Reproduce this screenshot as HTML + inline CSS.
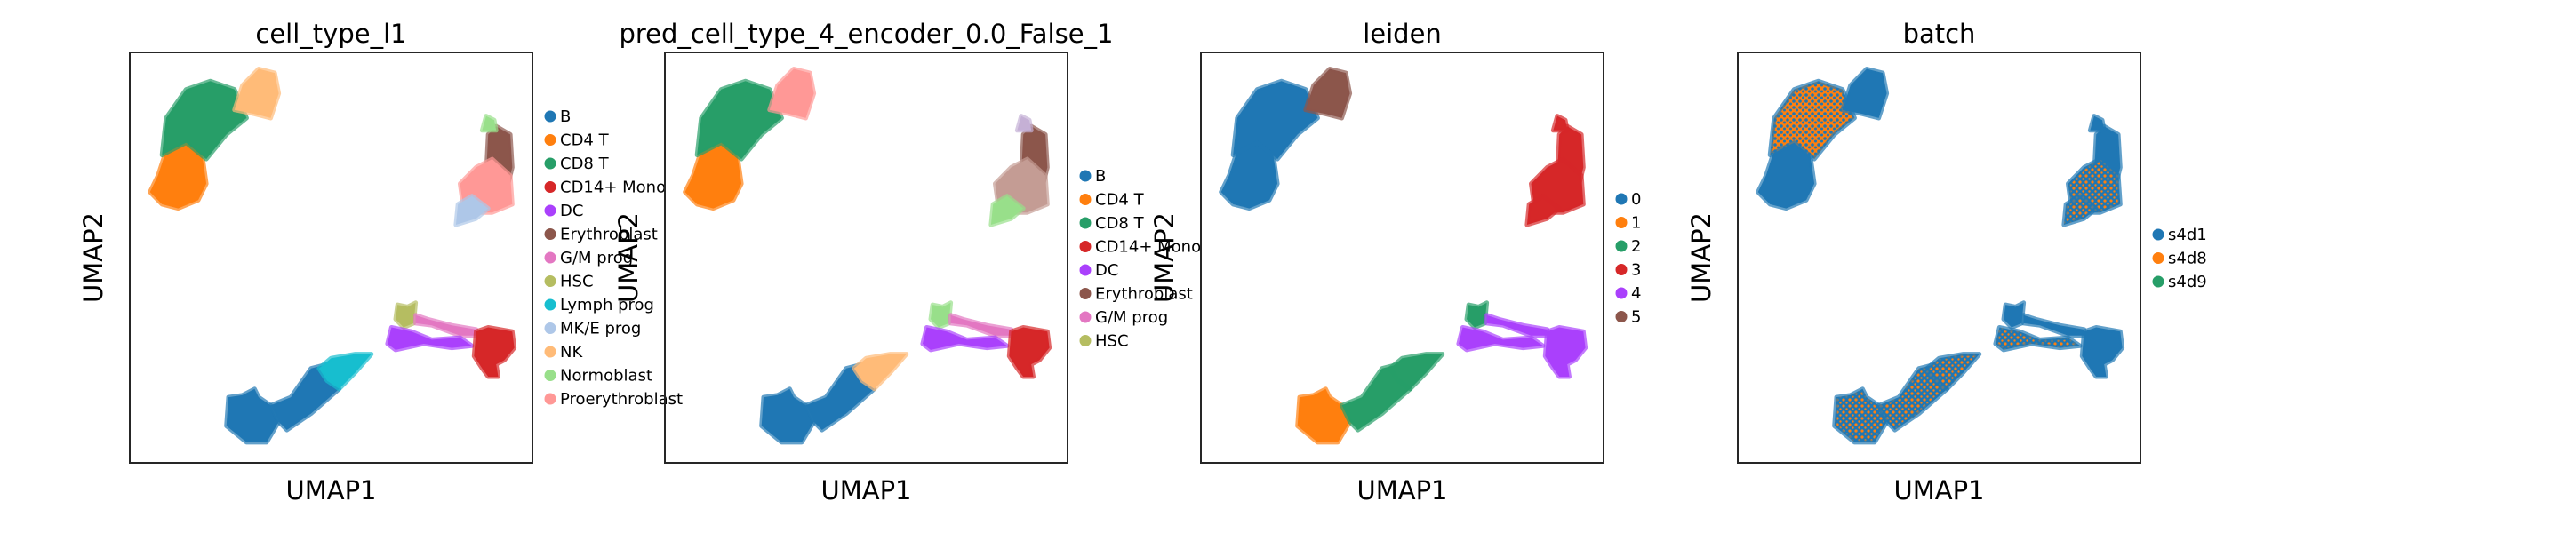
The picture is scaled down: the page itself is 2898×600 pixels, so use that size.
<!DOCTYPE html>
<html><head><meta charset="utf-8"><style>
html,body{margin:0;padding:0;background:#fff;width:2898px;height:600px;overflow:hidden}
text{font-family:"DejaVu Sans","Liberation Sans",sans-serif}
</style></head><body>
<svg id="fig" xmlns="http://www.w3.org/2000/svg" width="2898" height="600" viewBox="0 0 2898 600">
<defs>
<pattern id="mixBO" width="7" height="7" patternUnits="userSpaceOnUse"><rect width="7" height="7" fill="#1f77b4"/><circle cx="2" cy="2" r="1.6" fill="#ff7f0e"/><circle cx="5.5" cy="5.5" r="1.2" fill="#ff7f0e"/></pattern>
<pattern id="mixOB" width="7" height="7" patternUnits="userSpaceOnUse"><rect width="7" height="7" fill="#ff7f0e"/><circle cx="2" cy="2" r="1.8" fill="#1f77b4"/><circle cx="5.5" cy="5" r="1.5" fill="#1f77b4"/></pattern>
</defs>
</svg>
<script>
// Shared embedding regions (UMAP units 0-10)
const regionNames = ["cd4","cd8","nk","ery","proery","mke","normo","hsc","gm","dc","mono","b1","b2","lymph"];
const regionShapes = [
 [[0.5,6.6],[0.8,6.3],[1.2,6.2],[1.7,6.4],[1.9,6.8],[1.8,7.5],[1.4,7.9],[0.9,7.6],[0.7,7.0]],
 [[0.8,7.5],[0.9,8.4],[1.4,9.1],[2.0,9.3],[2.6,9.1],[2.9,8.4],[2.4,8.0],[1.9,7.4],[1.4,7.8]],
 [[2.6,8.6],[2.8,9.2],[3.2,9.6],[3.6,9.5],[3.7,9.0],[3.5,8.4],[3.1,8.5]],
 [[8.85,7.0],[8.9,8.0],[9.1,8.2],[9.45,8.0],[9.5,7.2],[9.4,6.8],[9.0,6.9]],
 [[8.3,6.1],[8.2,6.8],[8.6,7.2],[9.0,7.4],[9.45,7.0],[9.5,6.3],[9.0,6.1]],
 [[8.1,5.8],[8.15,6.3],[8.5,6.5],[8.9,6.2],[8.6,5.95]],
 [[8.75,8.1],[8.85,8.45],[9.05,8.35],[9.1,8.1]],
 [[6.6,3.5],[6.65,3.85],[6.9,3.8],[7.1,3.9],[7.05,3.4],[6.8,3.3]],
 [[7.1,3.4],[7.5,3.35],[8.2,3.1],[8.6,3.1],[8.6,3.25],[8.0,3.35],[7.4,3.5],[7.1,3.6]],
 [[6.4,2.9],[6.5,3.3],[7.0,3.2],[7.5,3.0],[8.2,3.05],[8.5,2.85],[8.0,2.8],[7.3,2.9],[6.6,2.75]],
 [[8.55,2.6],[8.6,3.2],[8.9,3.3],[9.5,3.2],[9.55,2.8],[9.3,2.5],[9.1,2.4],[9.15,2.1],[8.9,2.1],[8.75,2.3]],
 [[2.4,0.9],[2.45,1.6],[2.8,1.65],[3.1,1.8],[3.2,1.6],[3.5,1.4],[3.7,1.0],[3.4,0.5],[2.9,0.5]],
 [[3.5,1.4],[4.0,1.6],[4.5,2.3],[4.9,2.4],[5.2,1.8],[4.5,1.2],[3.9,0.8],[3.7,1.0]],
 [[4.7,2.3],[5.0,2.55],[5.6,2.65],[6.0,2.65],[5.6,2.2],[5.2,1.8],[4.9,2.0]]
];
// Panel titles
const panelTitles = ["cell_type_l1","pred_cell_type_4_encoder_0.0_False_1","leiden","batch"];
// Legends
const legend1Labels = ["B","CD4 T","CD8 T","CD14+ Mono","DC","Erythroblast","G/M prog","HSC","Lymph prog","MK/E prog","NK","Normoblast","Proerythroblast"];
const legend1Colors = ["#1f77b4","#ff7f0e","#279e68","#d62728","#aa40fc","#8c564b","#e377c2","#b5bd61","#17becf","#aec7e8","#ffbb78","#98df8a","#ff9896"];
const legend2Labels = ["B","CD4 T","CD8 T","CD14+ Mono","DC","Erythroblast","G/M prog","HSC"];
const legend2Colors = ["#1f77b4","#ff7f0e","#279e68","#d62728","#aa40fc","#8c564b","#e377c2","#b5bd61"];
const legend3Labels = ["0","1","2","3","4","5"];
const legend3Colors = ["#1f77b4","#ff7f0e","#279e68","#d62728","#aa40fc","#8c564b"];
const legend4Labels = ["s4d1","s4d8","s4d9"];
const legend4Colors = ["#1f77b4","#ff7f0e","#279e68"];
// Region colouring per panel (order of regionNames)
const fill1 = ["#ff7f0e","#279e68","#ffbb78","#8c564b","#ff9896","#aec7e8","#98df8a","#b5bd61","#e377c2","#aa40fc","#d62728","#1f77b4","#1f77b4","#17becf"];
const fill2 = ["#ff7f0e","#279e68","#ff9896","#8c564b","#c49c94","#98df8a","#c5b0d5","#98df8a","#e377c2","#aa40fc","#d62728","#1f77b4","#1f77b4","#ffbb78"];
const fill3 = ["#1f77b4","#1f77b4","#8c564b","#d62728","#d62728","#d62728","#d62728","#279e68","#aa40fc","#aa40fc","#aa40fc","#ff7f0e","#279e68","#279e68"];
const fill4 = ["#1f77b4","url(#mixOB)","#1f77b4","#1f77b4","url(#mixBO)","url(#mixBO)","#1f77b4","#1f77b4","#1f77b4","url(#mixBO)","#1f77b4","url(#mixBO)","url(#mixBO)","url(#mixBO)"];

const NS="http://www.w3.org/2000/svg";
const svg=document.getElementById('fig');
const boxTop=59, boxH=462, boxW=453;
const panelLefts=[146,748,1351,1955];
const legendStart=[131,198,224,264];
const allLabels=[legend1Labels,legend2Labels,legend3Labels,legend4Labels];
const allColors=[legend1Colors,legend2Colors,legend3Colors,legend4Colors];
const allFills=[fill1,fill2,fill3,fill4];
function mk(tag,attrs){const e=document.createElementNS(NS,tag);for(const k in attrs)e.setAttribute(k,attrs[k]);return e;}

panelTitles.forEach((title,p)=>{
  const L=panelLefts[p];
  const xs=u=>L+u/10*boxW, ys=v=>boxTop+(10-v)/10*boxH;
  const g=mk('g',{});
  
  
  svg.appendChild(g);
  const t=mk('text',{x:L+boxW/2,y:48,'text-anchor':'middle','font-size':29,fill:'#000'});
  
  
  t.textContent=title; g.appendChild(t);
  regionShapes.forEach((shape,i)=>{
    const pts=shape.map(q=>xs(q[0]).toFixed(1)+','+ys(q[1]).toFixed(1)).join(' ');
    const f=allFills[p][i];
    const stroke=f.startsWith('url')?'#1f77b4':f;
    const poly=mk('polygon',{points:pts,fill:f,stroke:stroke,'stroke-width':5,'stroke-linejoin':'round','stroke-opacity':0.7});
    
    
    g.appendChild(poly);
  });
  const fr=mk('rect',{x:L,y:boxTop,width:boxW,height:boxH,fill:'none',stroke:'#262626','stroke-width':2});
  
  
  g.appendChild(fr);
  const xl=mk('text',{x:L+boxW/2,y:562,'text-anchor':'middle','font-size':29,fill:'#000'});
  
  
  xl.textContent='UMAP1'; g.appendChild(xl);
  const yx=L-31, yy=boxTop+boxH/2;
  const yl=mk('text',{x:yx,y:yy,'text-anchor':'middle','font-size':29,fill:'#000',transform:`rotate(-90 ${yx} ${yy})`});
  
  
  yl.textContent='UMAP2'; g.appendChild(yl);
  const labs=allLabels[p], cols=allColors[p];
  labs.forEach((lab,i)=>{
    const y=legendStart[p]+i*26.5;
    const le=mk('g',{});
    
    
    le.appendChild(mk('circle',{cx:L+boxW+20,cy:y,r:6.5,fill:cols[i]}));
    const tx=mk('text',{x:L+boxW+31,y:y+6,'font-size':18,fill:'#000'});
    tx.textContent=lab; le.appendChild(tx);
    g.appendChild(le);
  });
});
</script>
</body></html>
